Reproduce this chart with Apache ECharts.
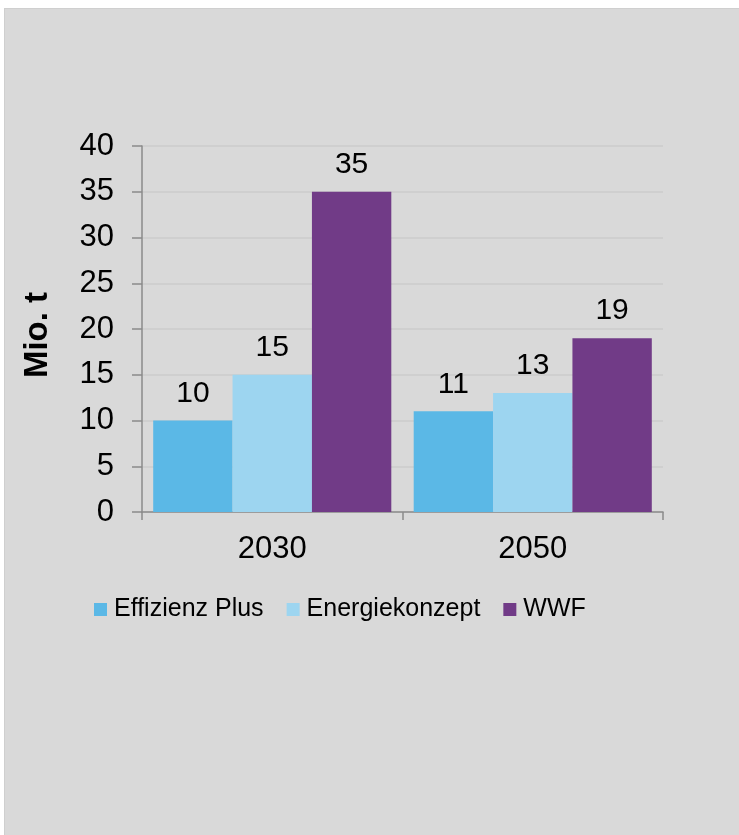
<!DOCTYPE html>
<html>
<head>
<meta charset="utf-8">
<script src="https://cdn.jsdelivr.net/npm/echarts@6/dist/echarts.min.js"></script>
<style>
html,body{margin:0;padding:0;background:#ffffff;width:739px;height:835px;overflow:hidden;}
#bg{position:absolute;left:4px;top:8px;width:735px;height:827px;background:#d9d9d9;box-sizing:border-box;border-left:1px solid #cfcfcf;border-top:1px solid #cfcfcf;}
#chart{position:absolute;left:0;top:0;width:739px;height:835px;}
</style>
</head>
<body>
<div id="bg"></div>
<div id="chart"></div>
<script>
const categories = ['2030', '2050'];
const seriesNames = ['Effizienz Plus', 'Energiekonzept', 'WWF'];
const effizienzPlus = [10, 11];
const energiekonzept = [15, 13];
const wwf = [35, 19];
const yTicks = [0, 5, 10, 15, 20, 25, 30, 35, 40];
const yTitle = 'Mio. t';

const colors = ['#5bb8e6', '#9dd5f0', '#713b87'];
const font = '"Liberation Sans", Arial, sans-serif';
const values = [effizienzPlus, energiekonzept, wwf];

const chart = echarts.init(document.getElementById('chart'), null, {renderer: 'canvas'});
chart.setOption({
  backgroundColor: 'transparent',
  animation: false,
  textStyle: {fontFamily: font},
  grid: {left: 142, right: 76, top: 146, bottom: 323, containLabel: false},
  legend: {
    left: 89, top: 592,
    itemWidth: 13, itemHeight: 13, itemGap: 23,
    icon: 'rect',
    textStyle: {fontSize: 25, color: '#000', fontFamily: font, padding: [0, 0, 0, 2]},
    data: seriesNames
  },
  xAxis: {
    type: 'category',
    data: categories,
    axisLine: {lineStyle: {color: '#8a8a8a', width: 1.5}},
    axisTick: {show: true, length: 8, lineStyle: {color: '#8a8a8a', width: 1.5}},
    axisLabel: {fontSize: 31, color: '#000', margin: 22, fontFamily: font},
    splitLine: {show: false}
  },
  yAxis: {
    type: 'value',
    min: yTicks[0], max: yTicks[yTicks.length - 1], interval: yTicks[1] - yTicks[0],
    name: yTitle,
    nameLocation: 'middle',
    nameGap: 88,
    nameRotate: 90,
    nameTextStyle: {fontSize: 33, fontWeight: 'bold', color: '#000', fontFamily: font, padding: [0, 12, 0, 0]},
    axisLine: {show: true, lineStyle: {color: '#8a8a8a', width: 1.5}},
    axisTick: {show: true, length: 10, lineStyle: {color: '#8a8a8a', width: 1.5}},
    axisLabel: {fontSize: 31, color: '#000', margin: 28, fontFamily: font},
    splitLine: {show: true, lineStyle: {color: '#cbcbcb', width: 1.5}}
  },
  series: seriesNames.map((name, i) => ({
    name: name,
    type: 'bar',
    data: values[i],
    barGap: '0%',
    barCategoryGap: '8.6%',
    itemStyle: {color: colors[i]},
    label: {show: true, position: 'top', distance: 12, fontSize: 30, color: '#000', fontFamily: font}
  }))
});
</script>
</body>
</html>
